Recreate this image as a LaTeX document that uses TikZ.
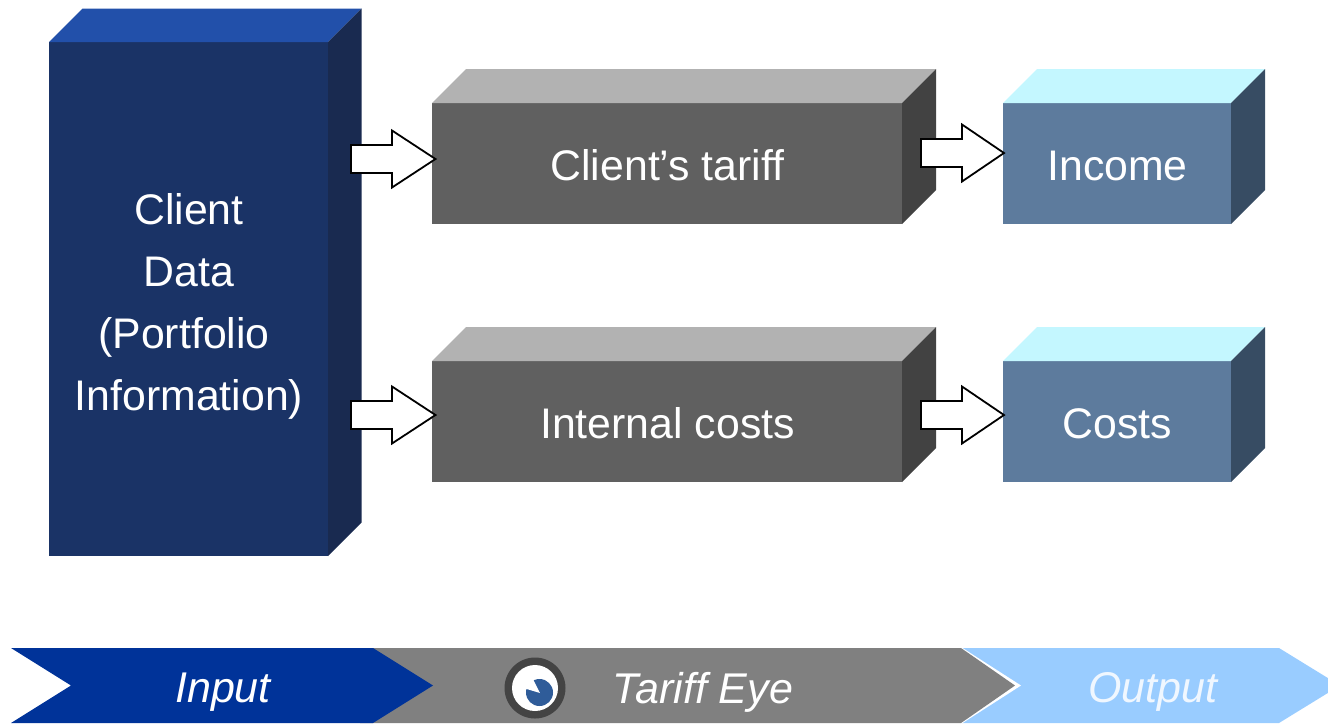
\documentclass[tikz,border=0pt]{standalone}
\usepackage{fontspec}
\usetikzlibrary{calc}
\setmainfont{Liberation Sans}
\definecolor{navyF}{HTML}{1A3366}
\definecolor{navyT}{HTML}{2250AA}
\definecolor{navyS}{HTML}{192A50}
\definecolor{grayF}{HTML}{606060}
\definecolor{grayT}{HTML}{B2B2B2}
\definecolor{grayS}{HTML}{424242}
\definecolor{blueF}{HTML}{5D7B9D}
\definecolor{blueT}{HTML}{C4F7FF}
\definecolor{blueS}{HTML}{374C63}
\definecolor{chevA}{HTML}{003399}
\definecolor{chevB}{HTML}{808080}
\definecolor{chevC}{HTML}{99CCFF}
\definecolor{ringC}{HTML}{444444}
\definecolor{eyeC}{HTML}{2F5C99}
\tikzset{
  x=1pt,y=-1pt,
  face/.style={inner sep=0pt,outer sep=0pt,text=white,align=center,anchor=north west,
    font=\fontsize{42.8}{62}\selectfont},
  chevlabel/.style={inner sep=0pt,outer sep=0pt,font=\fontsize{43}{48}\selectfont\itshape},
  pics/blockarrow/.style 2 args={code={
    \draw[fill=white,draw=black,line width=1.8pt,line join=miter,miter limit=3]
      (0,0) -- (-#1,-28.5) -- (-#1,-14) -- (-#2,-14) -- (-#2,14) -- (-#1,14) -- (-#1,28.5) -- cycle;
  }}
}
% cuboid: name, x, y, w, h, depth, front, top, side
\newcommand{\cuboid}[9]{%
  \node[face,fill=#7,minimum width=#4pt,minimum height=#5pt] (#1) at (#2,#3) {};
  \fill[#8] (#1.north west) -- ++(#6,-#6) -- ([shift={(#6,-#6)}]#1.north east) -- (#1.north east) -- cycle;
  \fill[#9] (#1.north east) -- ++(#6,-#6) -- ([shift={(#6,-#6)}]#1.south east) -- (#1.south east) -- cycle;
}
\begin{document}
\begin{tikzpicture}
\useasboundingbox (0,0) rectangle (1328,724);
\cuboid{client}{49}{42}{279}{514}{33.5}{navyF}{navyT}{navyS}
\cuboid{tariff}{432}{103}{470}{121}{34}{grayF}{grayT}{grayS}
\cuboid{internal}{432}{361}{470}{121}{34}{grayF}{grayT}{grayS}
\cuboid{income}{1003}{103}{228}{121}{34}{blueF}{blueT}{blueS}
\cuboid{costs}{1003}{361}{228}{121}{34}{blueF}{blueT}{blueS}
% labels
\node[face,anchor=center] (clientlabel) at ($(client.center)+(0.5,7)$) {Client\\Data\\(Portfolio\rule{10pt}{0pt}\\Information)};
\node[face,anchor=center] (tarifflabel) at ($(tariff.center)+(0.5,2)$) {Client’s tariff};
\node[face,anchor=center] (internallabel) at ($(internal.center)+(0.5,2)$) {Internal costs};
\node[face,anchor=center] (incomelabel) at ($(income.center)+(0.5,2)$) {Income};
\node[face,anchor=center] (costslabel) at ($(costs.center)+(0.5,2)$) {Costs};
% block arrows: tip positions
\coordinate (tipA) at ($(tariff.west)+(3.5,-4.5)$);
\coordinate (tipB) at ($(internal.west)+(3.5,-6.5)$);
\coordinate (tipC) at ($(income.west)+(1,-10.5)$);
\coordinate (tipD) at ($(costs.west)+(1,-6.5)$);
\pic at (tipA) {blockarrow={43.5}{84.5}};
\pic at (tipB) {blockarrow={43.5}{84.5}};
\pic at (tipC) {blockarrow={42}{83}};
\pic at (tipD) {blockarrow={42}{83}};
% chevron band
\fill[chevC] (955,648) -- (1279,648) -- (1340,685.5) -- (1279,723) -- (955,723) -- cycle;
\fill[white] (961,647) -- (1021,685.5) -- (961,724) -- (955,724) -- (955,647) -- cycle;
\fill[chevB] (360,648) -- (961,648) -- (1015,685.5) -- (961,723) -- (360,723) -- cycle;
\fill[chevA] (11,648) -- (373,648) -- (433,685.5) -- (373,723) -- (11,723) -- (71,685.5) -- cycle;
\node[chevlabel,text=white] (inputlabel) at (223,692) {Input};
\node[chevlabel,text=white] (eyelabel) at (703,692) {Tariff Eye};
\node[chevlabel,text=white!85!chevC] (outputlabel) at (1153,692) {Output};
% eye icon
\fill[ringC] (535,688) circle (30.5);
\fill[white] (535,688) circle (23);
\fill[eyeC] (539.5,692.5) circle (13.5);
\fill[white] (540,693) -- (525,688.5) -- (524,675) -- (533,679) -- cycle;
\end{tikzpicture}
\end{document}
